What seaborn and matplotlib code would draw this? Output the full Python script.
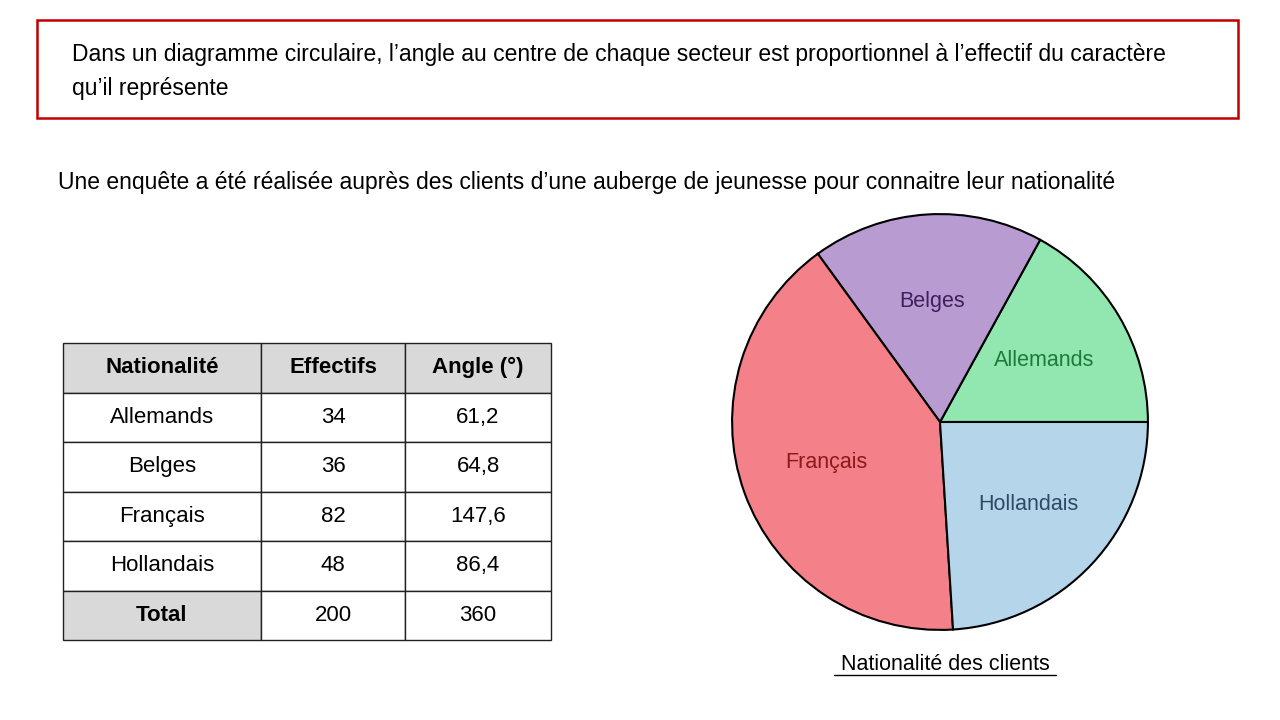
import matplotlib.pyplot as plt
import matplotlib.patches as mpatches
import seaborn as sns

sns.set_theme(style="white", font="Liberation Sans", rc={"text.color": "black"})

nationalites = ["Allemands", "Belges", "Français", "Hollandais"]
effectifs = [34, 36, 82, 48]
angles = ["61,2", "64,8", "147,6", "86,4"]
total_effectif = 200
total_angle = 360

couleurs = sns.color_palette(["#92E6B0", "#B89BD0", "#F4808A", "#B5D6EA"])
couleurs_texte = ["#1E7A3A", "#3F1F5F", "#8B1A1A", "#2E4A66"]

fig = plt.figure(figsize=(12.8, 7.2), dpi=100)
fig.patch.set_facecolor("white")

# cadre rouge en haut
fig.add_artist(mpatches.Rectangle((37 / 1280, 1 - 118 / 720), 1201 / 1280, 98 / 720,
                                  transform=fig.transFigure, fill=False,
                                  edgecolor="#C00000", linewidth=1.8))
fig.text(72 / 1280, 1 - 54 / 720,
         "Dans un diagramme circulaire, l\u2019angle au centre de chaque secteur est proportionnel à l\u2019effectif du caractère",
         fontsize=16.5, va="center", ha="left", color="black")
fig.text(72 / 1280, 1 - 88 / 720, "qu\u2019il représente", fontsize=16.5, va="center", ha="left", color="black")
fig.text(58 / 1280, 1 - 183 / 720,
         "Une enquête a été réalisée auprès des clients d\u2019une auberge de jeunesse pour connaitre leur nationalité",
         fontsize=16.5, va="center", ha="left", color="black")

# tableau
ax_t = fig.add_axes([63 / 1280, 1 - 640 / 720, 488 / 1280, 297 / 720])
ax_t.axis("off")
lignes = [[n, str(e), a] for n, e, a in zip(nationalites, effectifs, angles)]
lignes.append(["Total", str(total_effectif), str(total_angle)])
tab = ax_t.table(cellText=lignes, colLabels=["Nationalité", "Effectifs", "Angle (°)"],
                 cellLoc="center", bbox=[0, 0, 1, 1],
                 colWidths=[198 / 488, 144 / 488, 146 / 488])
tab.auto_set_font_size(False)
for (r, c), cell in tab.get_celld().items():
    cell.set_linewidth(1.0)
    cell.set_edgecolor("#222222")
    cell.get_text().set_fontsize(16)
    cell.get_text().set_color("black")
    if r == 0 or (r == 5 and c == 0):
        cell.set_facecolor("#D9D9D9")
        cell.get_text().set_fontweight("bold")

# diagramme circulaire
r_px = 210
ax_p = fig.add_axes([(940 - r_px) / 1280, 1 - (422 + r_px) / 720, 2 * r_px / 1280, 2 * r_px / 720])
wedges, textes = ax_p.pie(effectifs, colors=couleurs, startangle=0, counterclock=True,
                          labels=nationalites, labeldistance=0.58,
                          wedgeprops=dict(edgecolor="black", linewidth=1.5),
                          textprops=dict(fontsize=15.5))
for t, c in zip(textes, couleurs_texte):
    t.set_color(c)
    t.set_ha("center")
ax_p.set_xlim(-1.01, 1.01)
ax_p.set_ylim(-1.01, 1.01)
ax_p.set_aspect("equal")

fig.text(945 / 1280, 1 - 664 / 720, "Nationalité des clients", fontsize=15.5,
         ha="center", va="center", color="black")
fig.add_artist(plt.Line2D([834 / 1280, 1056 / 1280], [1 - 675 / 720] * 2,
                          color="black", linewidth=1, transform=fig.transFigure))

fig.savefig("out.png", dpi=100)
